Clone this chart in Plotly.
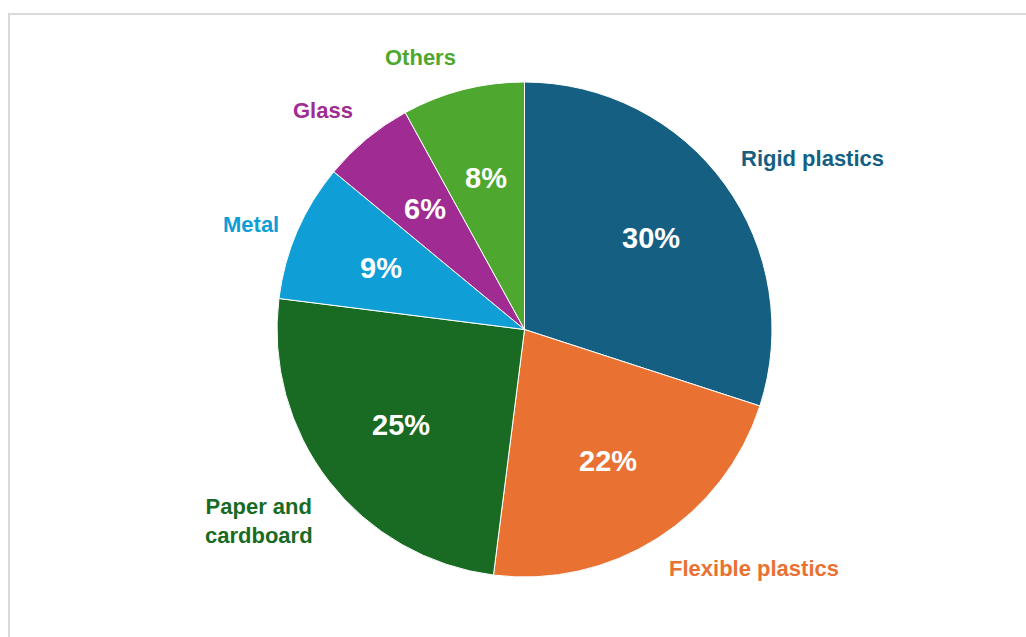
import math
import plotly.graph_objects as go

categories = ["Rigid plastics", "Flexible plastics", "Paper and cardboard", "Metal", "Glass", "Others"]
label_text = ["Rigid plastics", "Flexible plastics", "Paper and<br>cardboard", "Metal", "Glass", "Others"]
values = [30, 22, 25, 9, 6, 8]
colors = ["#156082", "#E97132", "#196B24", "#0F9ED5", "#A02B93", "#4EA72E"]

W, H = 1026, 637
CX, CY, R = 524.5, 329.5, 247.5  # pie centre / radius in px

fig = go.Figure()
fig.add_trace(go.Pie(
    labels=categories,
    values=values,
    marker=dict(colors=colors, line=dict(color="white", width=1)),
    sort=False,
    direction="clockwise",
    rotation=0,
    textinfo="none",
    hoverinfo="label+percent",
    showlegend=False,
    domain=dict(x=[(CX - R) / W, (CX + R) / W], y=[(H - CY - R) / H, (H - CY + R) / H]),
))

total = sum(values)
font = "Liberation Sans, Arial, sans-serif"
annotations = []
cum = 0
for lab, v, c in zip(label_text, values, colors):
    mid = (cum + v / 2) / total * 2 * math.pi
    cum += v
    s, co = math.sin(mid), math.cos(mid)
    # percentage inside
    rp = 0.63 * R
    px, py = CX + rp * s, CY - rp * co
    annotations.append(dict(
        x=px / W, y=1 - py / H, xref="paper", yref="paper",
        text=f"{v / total * 100:.0f}%", showarrow=False,
        xanchor="center", yanchor="middle",
        font=dict(family=font, size=29, color="white", weight="bold"),
    ))
    # category label outside
    ro = R + 18
    lx, ly = CX + ro * s, CY - ro * co
    xa = "left" if s > 0 else "right"
    ya = "bottom" if co > 0.5 else ("top" if co < -0.5 else "middle")
    annotations.append(dict(
        x=lx / W, y=1 - ly / H, xref="paper", yref="paper",
        text=lab, showarrow=False, align="center",
        xanchor=xa, yanchor=ya,
        font=dict(family=font, size=22, color=c, weight="bold"),
    ))

fig.update_layout(
    width=W, height=H,
    margin=dict(l=0, r=0, t=0, b=0),
    paper_bgcolor="white",
    plot_bgcolor="white",
    annotations=annotations,
    shapes=[dict(type="rect", xref="paper", yref="paper",
                 x0=9 / W, x1=1.02, y0=-0.02, y1=1 - 14 / H,
                 line=dict(color="#d9d9d9", width=2), fillcolor="rgba(0,0,0,0)", layer="below")],
)

fig.write_html("out.html")
